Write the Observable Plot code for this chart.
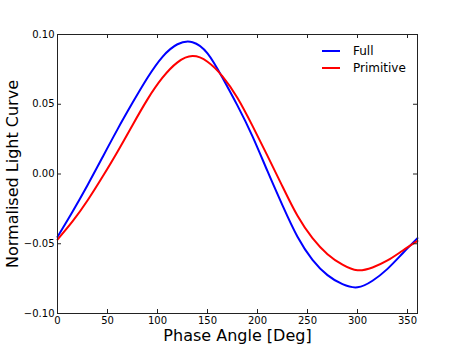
<!DOCTYPE html>
<html>
<head>
<meta charset="utf-8">
<script src="https://cdn.jsdelivr.net/npm/d3@7"></script>
<script src="https://cdn.jsdelivr.net/npm/@observablehq/plot@0.6"></script>
<style>
  body { margin: 0; background: #fff; }
  #wrap { position: relative; width: 463px; height: 348px; font-family: "DejaVu Sans", sans-serif; }
  #legend { position: absolute; left: 322px; top: 42px; font-size: 12px; color: #000; }
  #legend .row { display: flex; align-items: center; height: 17.5px; }
  #legend .sw { width: 18px; height: 2px; margin-right: 13px; }
</style>
</head>
<body>
<div id="wrap"></div>
<script>
const phase = [0, 15, 30, 45, 60, 75, 90, 105, 120, 135, 150, 165, 180, 195, 210, 225, 240, 255, 270, 285, 300, 315, 330, 345, 360];
const full = [-0.045, -0.027, -0.008, 0.012, 0.032, 0.051, 0.069, 0.084, 0.093, 0.0945, 0.0865, 0.069, 0.049, 0.027, 0.002, -0.0225, -0.045, -0.0615, -0.0725, -0.079, -0.0812, -0.0765, -0.068, -0.057, -0.046];
const primitive = [-0.047, -0.034, -0.019, -0.002, 0.016, 0.035, 0.0535, 0.069, 0.080, 0.0845, 0.0805, 0.070, 0.0545, 0.0345, 0.013, -0.009, -0.030, -0.046, -0.0575, -0.065, -0.069, -0.067, -0.062, -0.055, -0.048];
const seriesNames = ["Full", "Primitive"];
const seriesColors = ["#0000ff", "#ff0000"];
const xTicks = [0, 50, 100, 150, 200, 250, 300, 350];
const yTicks = [-0.10, -0.05, 0.00, 0.05, 0.10];
const xLabel = "Phase Angle [Deg]";
const yLabel = "Normalised Light Curve";

const rows = [];
phase.forEach((p, i) => {
  rows.push({phase: p, value: full[i], series: seriesNames[0]});
  rows.push({phase: p, value: primitive[i], series: seriesNames[1]});
});

const W = 463, H = 348, mL = 57, mR = 46, mT = 34, mB = 35;
const innerW = W - mL - mR, innerH = H - mT - mB, tick = 4;

const chart = Plot.plot({
  width: W, height: H,
  marginLeft: mL, marginRight: mR, marginTop: mT, marginBottom: mB,
  style: {fontFamily: "DejaVu Sans, sans-serif", fontSize: "10px", color: "#000", background: "#fff"},
  x: {domain: [0, 360]},
  y: {domain: [-0.1, 0.1]},
  color: {domain: seriesNames, range: seriesColors},
  marks: [
    Plot.line(rows, {x: "phase", y: "value", z: "series", stroke: "series", strokeWidth: 2, curve: "natural"}),
    Plot.frame({stroke: "#222", strokeWidth: 1}),
    Plot.tickX(xTicks, {x: d => d, insetTop: innerH - tick, stroke: "#222"}),
    Plot.tickX(xTicks, {x: d => d, insetBottom: innerH - tick, stroke: "#222"}),
    Plot.tickY(yTicks, {y: d => d, insetRight: innerW - tick, stroke: "#222"}),
    Plot.tickY(yTicks, {y: d => d, insetLeft: innerW - tick, stroke: "#222"}),
    Plot.axisX(xTicks, {tickSize: 0, tickPadding: 3, tickFormat: d3.format("d"), label: null}),
    Plot.axisY(yTicks, {tickSize: 0, tickPadding: 3, tickFormat: d3.format(".2f"), label: null}),
    Plot.text([xLabel], {frameAnchor: "bottom", text: d => d, dy: 22.5, lineAnchor: "middle", textAnchor: "middle", fontSize: 16}),
    Plot.text([yLabel], {frameAnchor: "left", text: d => d, dx: -44.5, rotate: -90, lineAnchor: "middle", textAnchor: "middle", fontSize: 16})
  ]
});
const wrap = document.getElementById("wrap");
wrap.appendChild(chart);

const legend = document.createElement("div");
legend.id = "legend";
seriesNames.forEach((name, i) => {
  const row = document.createElement("div");
  row.className = "row";
  const sw = document.createElement("div");
  sw.className = "sw";
  sw.style.background = seriesColors[i];
  const t = document.createElement("span");
  t.textContent = name;
  row.appendChild(sw);
  row.appendChild(t);
  legend.appendChild(row);
});
wrap.appendChild(legend);
</script>
</body>
</html>
